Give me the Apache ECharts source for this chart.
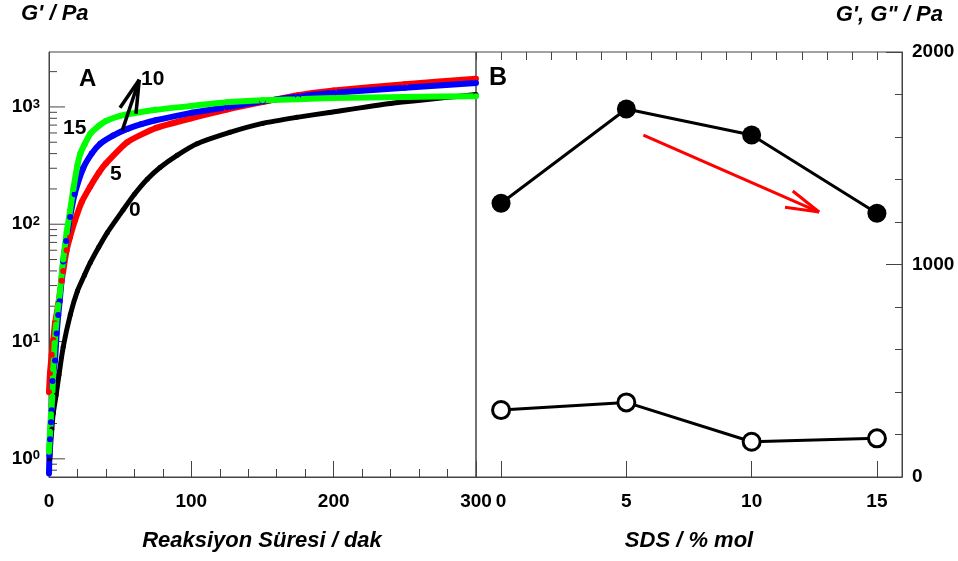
<!DOCTYPE html>
<html>
<head>
<meta charset="utf-8">
<title>G' - SDS</title>
<script src="https://cdn.jsdelivr.net/npm/echarts@6/dist/echarts.min.js"></script>
<style>
	html, body { margin: 0; padding: 0; background: #fff; }
	#chart { width: 958px; height: 561px; }
</style>
</head>
<body>
<div id="chart"></div>
<script>
// A paneli: reaksiyon süresi (dak) - G' (Pa), SDS %0, 5, 10, 15
const tBlack = [0.5, 2, 3, 5, 7, 10, 15, 20, 25, 29, 35, 41, 52, 60, 69, 78, 90, 104, 127, 150, 174, 197, 240, 300];
const gBlack = [1.0, 1.8, 2.45, 3.5, 5.2, 9.0, 17, 27, 37, 47, 64, 85, 132, 180, 242, 305, 387, 486, 607, 724, 815, 898, 1072, 1277];

const tRed = [0, 0.7, 1.9, 3, 4.2, 6.6, 8.9, 10, 12.4, 14.8, 18.3, 23, 29, 35, 40, 55, 75, 100, 125, 150, 175, 200, 250, 300];
const gRed = [3.7, 5.4, 7.7, 10.3, 14.3, 21, 33, 40, 60, 78, 108, 155, 210, 275, 330, 500, 660, 800, 950, 1100, 1260, 1380, 1560, 1740];

const tBlue = [0, 0.3, 0.7, 1.4, 1.9, 2.5, 4.2, 5.4, 6.5, 7.5, 10, 12, 14.8, 18, 24, 30, 36, 45, 55, 65, 75, 100, 125, 150, 175, 200, 250, 300];
const gBlue = [0.75, 1.07, 1.47, 2.05, 2.6, 4.6, 6.9, 11.7, 16.8, 22, 48, 72, 115, 180, 300, 400, 486, 570, 650, 715, 770, 890, 995, 1115, 1230, 1320, 1460, 1600];

const tGreen = [0, 0.7, 1.4, 2.3, 3, 4, 5, 6.5, 7.7, 10, 12.4, 14.8, 17.1, 20, 22, 25, 29, 35, 40, 50, 60, 75, 100, 125, 150, 175, 200, 250, 300];
const gGreen = [1.15, 1.7, 2.4, 3.4, 5.8, 9.7, 14, 20.5, 26.5, 50, 85, 130, 200, 320, 400, 480, 590, 690, 760, 840, 885, 945, 1020, 1095, 1140, 1165, 1190, 1215, 1235];

// B paneli: SDS (% mol) - G', G''
const sds = [0, 5, 10, 15];
const gPrime = [1288, 1732, 1609, 1241];
const gDouble = [315, 351, 166, 182];

// eksen işaretleri
const logMajor = [1, 10, 100, 1000];
const logMinor = [0.8, 0.9, 2, 3, 4, 5, 6, 7, 8, 9, 20, 30, 40, 50, 60, 70, 80, 90, 200, 300, 400, 500, 600, 700, 800, 900, 2000];
const sdsLabels = [0, 5, 10, 15];

// ok işaretleri (veri koordinatlarında)
const arrowA = { tail: [51.5, 631], tip: [63.4, 1703], wing1: [49.9, 984], wing2: [61.1, 875] };
const arrowB = { tail: [5.68, 1609], tip: [12.69, 1247], wing1: [11.33, 1269], wing2: [11.64, 1346] };

const FONT = "'Liberation Sans', Arial, sans-serif";
const AXIS_COLOR = '#444';

function zip(a, b) {
	return a.map((x, i) => [x, b[i]]);
}

function arrowLines(ar) {
	return [
		[{ coord: ar.tail }, { coord: ar.tip }],
		[{ coord: ar.wing1 }, { coord: ar.tip }],
		[{ coord: ar.wing2 }, { coord: ar.tip }]
	];
}

function curve(name, t, g, color, width) {
	return {
		name: name,
		type: 'line',
		xAxisIndex: 0,
		yAxisIndex: 0,
		data: zip(t, g),
		symbol: 'circle',
		symbolSize: width,
		showAllSymbol: true,
		smooth: 0.2,
		itemStyle: { color: color },
		lineStyle: { color: color, width: width },
		emphasis: { disabled: true }
	};
}

const tickLabel = { color: '#000', fontFamily: FONT, fontWeight: 'bold', fontSize: 19 };

var myChart = echarts.init(document.getElementById('chart'));

const logTickData = logMajor.map(v => [0, v, 1]).concat(logMinor.map(v => [0, v, 0]));

const blackCurve = curve('0', tBlack, gBlack, '#000000', 5);
blackCurve.markLine = {
	silent: true,
	symbol: 'none',
	label: { show: false },
	lineStyle: { color: '#000', width: 3.5, type: 'solid' },
	data: arrowLines(arrowA)
};

const option = {
	animation: false,
	backgroundColor: '#fff',
	grid: [
		{ left: 49, top: 52, width: 427, height: 425, show: true, borderColor: AXIS_COLOR, borderWidth: 1 },
		{ left: 476, top: 52, width: 426, height: 425, show: true, borderColor: AXIS_COLOR, borderWidth: 1 }
	],
	xAxis: [
		{
			gridIndex: 0, type: 'value', min: 0, max: 300, interval: 100,
			axisLine: { show: true, onZero: false, lineStyle: { color: AXIS_COLOR } },
			axisTick: { inside: true, length: 16, lineStyle: { color: AXIS_COLOR } },
			minorTick: { show: true, splitNumber: 5, length: 8, lineStyle: { color: AXIS_COLOR } },
			axisLabel: Object.assign({ margin: 15 }, tickLabel),
			splitLine: { show: false }
		},
		{
			gridIndex: 1, type: 'value', min: -1, max: 16,
			axisLine: { show: true, onZero: false, lineStyle: { color: AXIS_COLOR } },
			axisTick: { inside: true, length: 16, customValues: sdsLabels, lineStyle: { color: AXIS_COLOR } },
			axisLabel: Object.assign({ margin: 15, customValues: sdsLabels }, tickLabel),
			splitLine: { show: false }
		},
		{
			gridIndex: 1, type: 'value', min: -1, max: 16, interval: 1,
			axisLine: { show: false, onZero: false },
			axisTick: { inside: true, length: 8, lineStyle: { color: AXIS_COLOR } },
			axisLabel: { show: false },
			splitLine: { show: false }
		}
	],
	yAxis: [
		{
			gridIndex: 0, type: 'log', logBase: 10, min: 0.7, max: 2940,
			axisLine: { show: true, onZero: false, lineStyle: { color: AXIS_COLOR } },
			axisTick: { show: false },
			axisLabel: {
				margin: 9,
				formatter: function (v) {
					const e = Math.log10(v);
					const r = Math.round(e);
					if (Math.abs(e - r) > 1e-6) return '';
					return '{b|10}{s|' + r + '}';
				},
				rich: {
					b: { color: '#000', fontFamily: FONT, fontWeight: 'bold', fontSize: 19 },
					s: { color: '#000', fontFamily: FONT, fontWeight: 'bold', fontSize: 13, verticalAlign: 'top' }
				}
			},
			splitLine: { show: false }
		},
		{
			gridIndex: 1, type: 'value', position: 'right', min: 0, max: 2000, interval: 1000,
			axisLine: { show: true, onZero: false, lineStyle: { color: AXIS_COLOR } },
			axisTick: { inside: true, length: 16, lineStyle: { color: AXIS_COLOR } },
			minorTick: { show: true, splitNumber: 5, length: 7, lineStyle: { color: AXIS_COLOR } },
			axisLabel: Object.assign({ margin: 10, formatter: v => String(v) }, tickLabel),
			splitLine: { show: false }
		}
	],
	series: [
		// log eksenindeki 2..9 ara işaretleri
		{
			type: 'custom',
			xAxisIndex: 0,
			yAxisIndex: 0,
			silent: true,
			z: 1,
			data: logTickData,
			renderItem: function (params, api) {
				const p = api.coord([0, api.value(1)]);
				const len = api.value(2) ? 16 : 8;
				return {
					type: 'line',
					shape: { x1: p[0], y1: p[1], x2: p[0] + len, y2: p[1] },
					style: { stroke: AXIS_COLOR, lineWidth: 1 }
				};
			}
		},
		blackCurve,
		curve('5', tRed, gRed, '#ff0000', 6),
		curve('10', tBlue, gBlue, '#0000ff', 6),
		curve('15', tGreen, gGreen, '#00ff00', 6),
		{
			name: "G'",
			type: 'line',
			xAxisIndex: 1,
			yAxisIndex: 1,
			data: zip(sds, gPrime),
			symbol: 'circle',
			symbolSize: 19,
			itemStyle: { color: '#000' },
			lineStyle: { color: '#000', width: 3 },
			emphasis: { disabled: true },
			markLine: {
				silent: true,
				symbol: 'none',
				label: { show: false },
				lineStyle: { color: '#ff0000', width: 3, type: 'solid' },
				data: arrowLines(arrowB)
			}
		},
		{
			name: 'G"',
			type: 'line',
			xAxisIndex: 1,
			yAxisIndex: 1,
			data: zip(sds, gDouble),
			symbol: 'circle',
			symbolSize: 17,
			itemStyle: { color: '#fff', borderColor: '#000', borderWidth: 3 },
			lineStyle: { color: '#000', width: 3 },
			emphasis: { disabled: true }
		}
	],
	graphic: [
		{ type: 'text', style: { text: "G' / Pa", x: 21, y: 14, textAlign: 'left', textVerticalAlign: 'middle', font: 'italic bold 22px ' + FONT, fill: '#000' } },
		{ type: 'text', style: { text: 'G\', G" / Pa', x: 943, y: 15, textAlign: 'right', textVerticalAlign: 'middle', font: 'italic bold 22px ' + FONT, fill: '#000' } },
		{ type: 'text', style: { text: 'Reaksiyon Süresi / dak', x: 262, y: 541, textAlign: 'center', textVerticalAlign: 'middle', font: 'italic bold 22px ' + FONT, fill: '#000' } },
		{ type: 'text', style: { text: 'SDS / % mol', x: 689, y: 541, textAlign: 'center', textVerticalAlign: 'middle', font: 'italic bold 22px ' + FONT, fill: '#000' } },
		{ type: 'text', style: { text: 'A', x: 79, y: 79, textAlign: 'left', textVerticalAlign: 'middle', font: 'bold 24px ' + FONT, fill: '#000' } },
		{ type: 'text', style: { text: 'B', x: 489, y: 78, textAlign: 'left', textVerticalAlign: 'middle', font: 'bold 25px ' + FONT, fill: '#000' } },
		{ type: 'text', style: { text: '10', x: 141, y: 79, textAlign: 'left', textVerticalAlign: 'middle', font: 'bold 21px ' + FONT, fill: '#000' } },
		{ type: 'text', style: { text: '15', x: 63, y: 128, textAlign: 'left', textVerticalAlign: 'middle', font: 'bold 21px ' + FONT, fill: '#000' } },
		{ type: 'text', style: { text: '5', x: 110, y: 174, textAlign: 'left', textVerticalAlign: 'middle', font: 'bold 21px ' + FONT, fill: '#000' } },
		{ type: 'text', style: { text: '0', x: 129, y: 210, textAlign: 'left', textVerticalAlign: 'middle', font: 'bold 21px ' + FONT, fill: '#000' } }
	]
};

myChart.setOption(option);
</script>
</body>
</html>
